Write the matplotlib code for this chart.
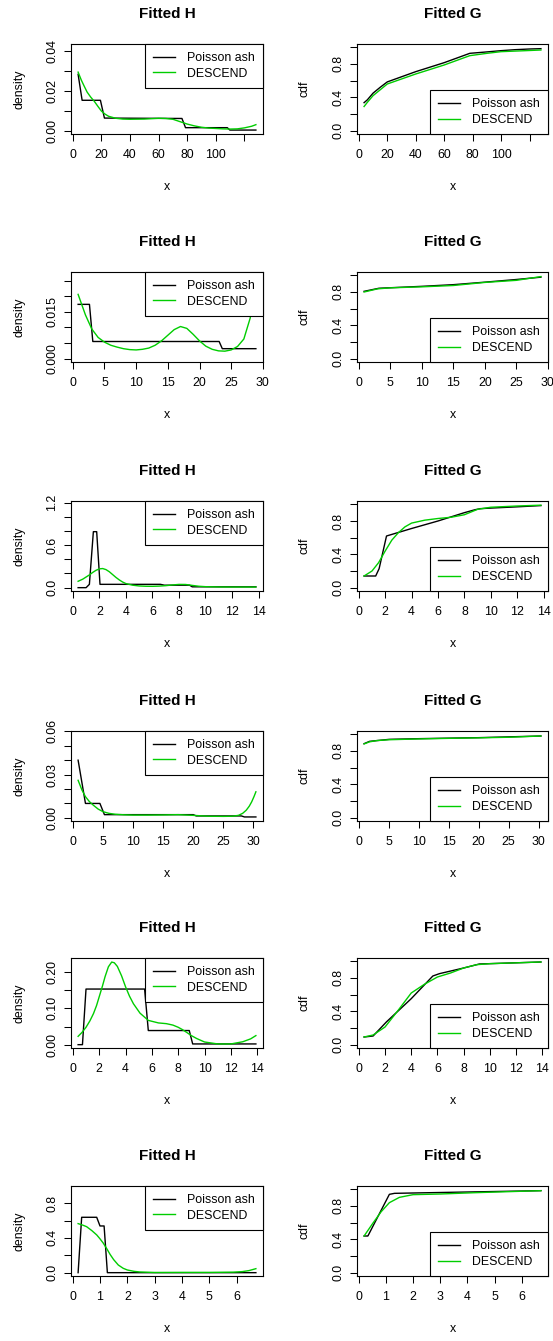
import matplotlib.pyplot as plt
import numpy as np

plt.rcParams['font.family'] = ['Liberation Sans', 'DejaVu Sans']

# ---- fitted densities H (Poisson ash vs DESCEND) and cdf G, six genes ----
# gene 1
ash_hx1 = [3.7, 6.5, 19.3, 22.1, 76.3, 78.8, 108.0, 109.8, 128.0]
ash_h1 = [0.0282, 0.0152, 0.0152, 0.0063, 0.0061, 0.0015, 0.0015, 0.0003, 0.0003]
des_hx1 = [3.7, 6, 8, 10, 12.5, 15, 17.5, 20, 22.5, 25, 30, 35, 40, 50, 60, 65, 70, 75,
           80, 85, 90, 95, 100, 105, 110, 115, 120, 125, 128]
des_h1 = [0.0293, 0.0252, 0.0222, 0.0193, 0.0168, 0.0147, 0.0122, 0.0098, 0.0083, 0.0072,
          0.0062, 0.0058, 0.0057, 0.0058, 0.0062, 0.0061, 0.0057, 0.0045, 0.0033, 0.0024,
          0.0017, 0.0013, 0.0011, 0.0009, 0.0008, 0.0009, 0.0014, 0.0022, 0.0030]
ash_gx1 = [3.7, 6, 10, 15, 20, 40, 60, 78, 90, 100, 110, 120, 128]
ash_g1 = [0.336, 0.37, 0.45, 0.52, 0.585, 0.708, 0.816, 0.928, 0.945, 0.96, 0.972, 0.98, 0.984]
des_gx1 = [3.7, 6, 10, 15, 20, 40, 60, 78, 90, 100, 110, 120, 128]
des_g1 = [0.29, 0.34, 0.42, 0.49, 0.56, 0.68, 0.788, 0.9, 0.928, 0.948, 0.955, 0.962, 0.968]

# gene 2
ash_hx2 = [0.84, 2.63, 3.16, 23.1, 23.6, 28.9]
ash_h2 = [0.0174, 0.0174, 0.0055, 0.0055, 0.0032, 0.0032]
des_hx2 = [0.84, 2, 3, 4, 5, 6, 7, 8, 9, 10, 11, 12, 13, 14, 15, 16, 17, 18, 19, 20,
           21, 22, 23, 24, 25, 26, 27, 28, 28.9]
des_h2 = [0.0206, 0.0140, 0.0095, 0.0068, 0.0053, 0.0043, 0.0037, 0.0032, 0.0029, 0.0028,
          0.0030, 0.0034, 0.0043, 0.0057, 0.0075, 0.0093, 0.0103, 0.0097, 0.0078, 0.0057,
          0.0040, 0.0030, 0.0025, 0.0024, 0.0028, 0.0039, 0.0063, 0.0130, 0.0246]
ash_gx2 = [0.84, 3.2, 10, 15, 20, 25, 28.9]
ash_g2 = [0.808, 0.845, 0.868, 0.888, 0.918, 0.95, 0.978]
des_gx2 = [0.84, 3, 5, 10, 15, 20, 25, 28.9]
des_g2 = [0.80, 0.838, 0.85, 0.862, 0.878, 0.915, 0.94, 0.985]

# gene 3
ash_hx3 = [0.4, 1.0, 1.25, 1.55, 1.8, 2.05, 6.6, 6.9, 8.8, 9.0, 13.8]
ash_h3 = [0.0, 0.0, 0.047, 0.79, 0.79, 0.047, 0.047, 0.035, 0.035, 0.012, 0.012]
des_hx3 = [0.4, 0.75, 1.0, 1.25, 1.5, 1.75, 2.0, 2.25, 2.5, 2.75, 3.0, 3.25, 3.5, 3.75,
           4.0, 4.5, 5.0, 5.5, 6.0, 6.5, 7.0, 7.5, 8.0, 8.5, 9.0, 9.5, 10, 11, 12, 13, 13.8]
des_h3 = [0.09, 0.12, 0.15, 0.18, 0.215, 0.245, 0.265, 0.27, 0.255, 0.225, 0.185, 0.145,
          0.11, 0.08, 0.058, 0.035, 0.024, 0.02, 0.019, 0.022, 0.028, 0.038, 0.046, 0.045,
          0.032, 0.02, 0.014, 0.01, 0.009, 0.009, 0.009]
ash_gx3 = [0.4, 1.28, 1.54, 2.1, 4, 6, 8, 8.8, 9.2, 10, 12, 13.8]
ash_g3 = [0.14, 0.14, 0.228, 0.62, 0.71, 0.80, 0.90, 0.935, 0.948, 0.955, 0.97, 0.985]
des_gx3 = [0.4, 1, 1.5, 2, 2.5, 3, 3.5, 4, 5, 6, 7, 8, 9, 10, 12, 13.8]
des_g3 = [0.14, 0.2, 0.3, 0.44, 0.57, 0.66, 0.73, 0.775, 0.81, 0.83, 0.845, 0.875, 0.94,
          0.965, 0.98, 0.99]

# gene 4
ash_hx4 = [0.88, 2.1, 4.5, 5.25, 20, 20.5, 28, 28.5, 30.4]
ash_h4 = [0.040, 0.0099, 0.0099, 0.0021, 0.0021, 0.0012, 0.0012, 0.0005, 0.0005]
des_hx4 = [0.88, 1.5, 2.1, 2.75, 3.4, 4.2, 5, 6, 7, 8.5, 10, 12.5, 15, 17.5, 20, 22.5, 25,
           26.5, 27.5, 28.2, 28.8, 29.3, 29.7, 30.1, 30.4]
des_h4 = [0.026, 0.0194, 0.0146, 0.0112, 0.0087, 0.006, 0.0042, 0.003, 0.0024, 0.002,
          0.0018, 0.0018, 0.0019, 0.0021, 0.0016, 0.001, 0.0009, 0.001, 0.0016, 0.003,
          0.0052, 0.008, 0.011, 0.0148, 0.018]
ash_gx4 = [0.88, 1.8, 5.1, 10, 20, 30.4]
ash_g4 = [0.888, 0.916, 0.94, 0.948, 0.96, 0.98]
des_gx4 = [0.88, 1.8, 3, 5, 10, 15, 20, 25, 30.4]
des_g4 = [0.885, 0.91, 0.925, 0.935, 0.945, 0.952, 0.958, 0.965, 0.98]

# gene 5
ash_hx5 = [0.4, 0.73, 1.0, 5.45, 5.73, 8.84, 9.1, 13.9]
ash_h5 = [0.0, 0.0, 0.1535, 0.1535, 0.039, 0.039, 0.002, 0.002]
des_hx5 = [0.4, 0.7, 1.0, 1.3, 1.57, 1.8, 2.0, 2.25, 2.45, 2.7, 2.95, 3.15, 3.38, 3.7, 4.0,
           4.3, 4.6, 5.1, 5.73, 6.5, 7.1, 7.6, 8.0, 8.3, 8.64, 9.0, 9.4, 10, 11, 12, 12.9,
           13.5, 13.9]
des_h5 = [0.023, 0.034, 0.048, 0.066, 0.086, 0.108, 0.132, 0.162, 0.188, 0.215, 0.228,
          0.226, 0.216, 0.19, 0.16, 0.134, 0.113, 0.087, 0.067, 0.06, 0.058, 0.054, 0.048,
          0.042, 0.034, 0.025, 0.017, 0.0074, 0.002, 0.002, 0.008, 0.016, 0.025]
ash_gx5 = [0.4, 1.09, 2.1, 4, 5.65, 6.15, 8, 9.2, 11.5, 13.9]
ash_g5 = [0.092, 0.104, 0.272, 0.552, 0.824, 0.852, 0.92, 0.968, 0.98, 0.992]
des_gx5 = [0.4, 1.09, 2, 3, 4, 5, 6, 7, 8, 9, 10, 12, 13.9]
des_g5 = [0.092, 0.116, 0.212, 0.412, 0.62, 0.724, 0.812, 0.86, 0.92, 0.96, 0.972, 0.982, 0.992]

# gene 6
ash_hx6 = [0.2, 0.33, 0.88, 1.0, 1.15, 1.27, 6.7]
ash_h6 = [0.0, 0.638, 0.638, 0.538, 0.538, 0.0, 0.0]
des_hx6 = [0.2, 0.35, 0.51, 0.7, 0.88, 1.0, 1.12, 1.25, 1.37, 1.5, 1.67, 1.85, 2.0, 2.25,
           2.46, 3.0, 4.0, 5.0, 5.88, 6.2, 6.45, 6.7]
des_h6 = [0.565, 0.55, 0.53, 0.485, 0.435, 0.39, 0.34, 0.275, 0.21, 0.15, 0.088, 0.05,
          0.031, 0.015, 0.008, 0.002, 0.003, 0.003, 0.006, 0.012, 0.024, 0.046]
ash_gx6 = [0.2, 0.34, 1.13, 1.32, 6.7]
ash_g6 = [0.44, 0.44, 0.94, 0.952, 0.984]
des_gx6 = [0.2, 0.52, 0.83, 1.13, 1.5, 2, 3, 4.3, 6.7]
des_g6 = [0.44, 0.592, 0.732, 0.84, 0.904, 0.936, 0.944, 0.96, 0.984]

# upper density limit per gene, x tick step, y ticks (labels dropped where R skips them)
h_ymax = [0.0417, 0.0267, 1.176, 0.058, 0.23, 0.96]
x_step = [20, 5, 2, 5, 2, 1]
h_yticks = [[0, 0.01, 0.02, 0.03, 0.04],
            [0, 0.005, 0.01, 0.015, 0.02, 0.025],
            [0, 0.2, 0.4, 0.6, 0.8, 1.0, 1.2],
            [0, 0.01, 0.02, 0.03, 0.04, 0.05, 0.06],
            [0, 0.05, 0.10, 0.15, 0.20],
            [0, 0.2, 0.4, 0.6, 0.8]]
h_ylabels = [['0.00', '', '0.02', '', '0.04'],
             ['0.000', '', '', '0.015', '', ''],
             ['0.0', '', '', '0.6', '', '', '1.2'],
             ['0.00', '', '', '0.03', '', '', '0.06'],
             ['0.00', '', '0.10', '', '0.20'],
             ['0.0', '', '0.4', '', '0.8']]
g_yticks = [0, 0.2, 0.4, 0.6, 0.8, 1.0]
g_ylabels = ['0.0', '', '0.4', '', '0.8', '']

H_sets = [(ash_hx1, ash_h1, des_hx1, des_h1), (ash_hx2, ash_h2, des_hx2, des_h2),
          (ash_hx3, ash_h3, des_hx3, des_h3), (ash_hx4, ash_h4, des_hx4, des_h4),
          (ash_hx5, ash_h5, des_hx5, des_h5), (ash_hx6, ash_h6, des_hx6, des_h6)]
G_sets = [(ash_gx1, ash_g1, des_gx1, des_g1), (ash_gx2, ash_g2, des_gx2, des_g2),
          (ash_gx3, ash_g3, des_gx3, des_g3), (ash_gx4, ash_g4, des_gx4, des_g4),
          (ash_gx5, ash_g5, des_gx5, des_g5), (ash_gx6, ash_g6, des_gx6, des_g6)]

GREEN = '#00CD00'
W, H = 553, 1341
fig = plt.figure(figsize=(W / 100, H / 100), dpi=100)

box_top = [44, 272, 501, 731, 958, 1186]
box_h = 90
cols = [(71, 263), (357, 548)]


def r_range(lo, hi):
    # R style 4% axis extension
    d = 0.04 * (hi - lo)
    return lo - d, hi + d


def panel(row, col, sets, ymax, yticks, ylabels, title, ylab, legloc):
    x0, x1 = cols[col]
    ax = fig.add_axes([x0 / W, 1 - (box_top[row] + box_h) / H, (x1 - x0) / W, box_h / H])
    ax_x, ax_y, de_x, de_y = sets
    ax.plot(ax_x, ax_y, color='black', lw=1.0, label='Poisson ash')
    ax.plot(de_x, de_y, color=GREEN, lw=1.0, label='DESCEND')

    xlo, xhi = r_range(min(ax_x), max(ax_x))
    ax.set_xlim(xlo, xhi)
    ax.set_ylim(*r_range(0, ymax))
    xt = np.arange(0, xhi, x_step[row])
    ax.set_xticks(xt)
    xl = ['%g' % v for v in xt]
    if row == 0:
        xl[-1] = ''
    ax.set_xticklabels(xl)
    ax.set_yticks(yticks)
    ax.set_yticklabels(ylabels, rotation=90, va='center')

    ax.tick_params(direction='out', length=5, width=0.75, labelsize=8.9, colors='black')
    ax.tick_params(axis='x', pad=6)
    ax.tick_params(axis='y', pad=4)
    for s in ax.spines.values():
        s.set_linewidth(0.8)

    ax.set_xlabel('x', fontsize=8.9)
    ax.xaxis.set_label_coords(0.5, -53 / box_h)
    ax.xaxis.label.set_va('center')
    ax.set_ylabel(ylab, fontsize=8.9)
    ax.yaxis.set_label_coords(-52 / (x1 - x0), 0.5)
    ax.yaxis.label.set_va('center')
    ax.text(0.5, 1 + 30 / box_h, title, transform=ax.transAxes, ha='center', va='center',
            fontsize=11, fontweight='bold')

    leg = ax.legend(loc=legloc, borderaxespad=0, fancybox=False, framealpha=1,
                    edgecolor='black', fontsize=8.9, handlelength=1.8, handletextpad=1.0,
                    borderpad=0.65, labelspacing=0.3)
    leg.get_frame().set_linewidth(0.8)
    return ax


for r in range(6):
    panel(r, 0, H_sets[r], h_ymax[r], h_yticks[r], h_ylabels[r], 'Fitted H', 'density',
          'upper right')
    panel(r, 1, G_sets[r], 1.0, g_yticks, g_ylabels, 'Fitted G', 'cdf', 'lower right')

fig.savefig('out.png', dpi=100)
